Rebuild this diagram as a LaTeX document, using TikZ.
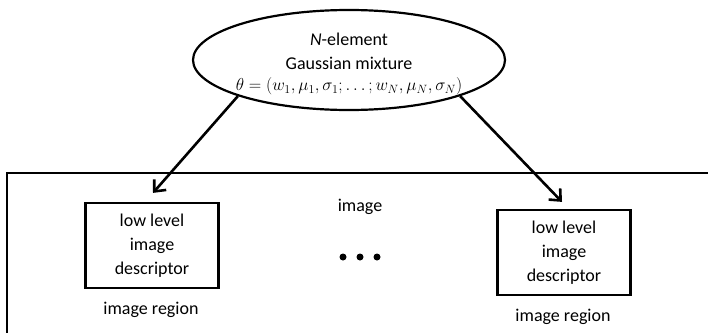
\documentclass[tikz,border=0pt]{standalone}
\usepackage{fontspec}
\setmainfont{Carlito}
\usetikzlibrary{shapes.geometric, arrows.meta}

\begin{document}
\begin{tikzpicture}[
      x=1pt, y=-1pt,
      line join=miter,
      font=\fontsize{18}{24}\selectfont
  ]

  \useasboundingbox (0,0) rectangle (708,332);

  % the image frame, open at right and bottom
  \coordinate (FrameLow) at (7,345);
  \coordinate (FrameCorner) at (7,173);
  \coordinate (FrameRight) at (720,173);
  \draw [line width=2.2pt] (FrameLow) -- (FrameCorner) -- (FrameRight);

  \begin{scope}[
      every node/.style={inner sep=0pt},
      descriptor/.style={draw, line width=2.2pt, minimum width=133pt, minimum height=85pt, align=center}
  ]

      \node [draw, ellipse, line width=2.2pt, minimum width=312pt, minimum height=100pt] (Mixture) at (349,60) {}; % root
      \node [align=center] (MixtureText) at (349,64)
        {\textit{N}-element\\Gaussian mixture\\[-3pt]
         $\fontsize{17}{20}\selectfont\theta=(w_1,\mu_1,\sigma_1;\ldots;w_N,\mu_N,\sigma_N)$};

      \node [descriptor] (LeftDescriptor) at (152,245.5) {low level\\image\\descriptor};
      \node [descriptor] (RightDescriptor) at (564,252.5) {low level\\image\\descriptor};

      \node (LeftRegion) at (151,310) {image region};
      \node (RightRegion) at (563,317) {image region};
      \node (Image) at (360,207) {image};

  \end{scope}

  \begin{scope}[
    every node/.style = {circle, fill=black, inner sep=0pt, minimum size=7pt}
    ]

    \node (DotA) at (343,257) {};
    \node (DotB) at (360,257) {};
    \node (DotC) at (377,257) {};

  \end{scope}

  \draw [line width=2.6pt, -{Straight Barb[length=9pt, width=16pt]}] (Mixture.198) -- ([shift={(1,-9)}]LeftDescriptor.north);
  \draw [line width=2.6pt, -{Straight Barb[length=9pt, width=16pt]}] (Mixture.-18) -- ([shift={(-2,-7)}]RightDescriptor.north);

\end{tikzpicture}
\end{document}
